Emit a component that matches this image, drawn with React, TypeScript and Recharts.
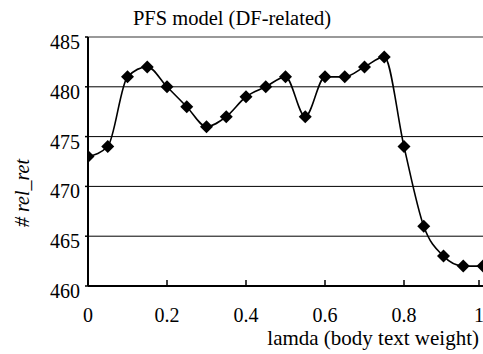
import { Line, LineChart, ReferenceLine, XAxis, YAxis } from "recharts";

// lamda steps and the # rel_ret read at each one
const lambdas = [0, 0.05, 0.1, 0.15, 0.2, 0.25, 0.3, 0.35, 0.4, 0.45, 0.5, 0.55, 0.6, 0.65, 0.7, 0.75, 0.8, 0.85, 0.9, 0.95, 1];
const relRet = [473, 474, 481, 482, 480, 478, 476, 477, 479, 480, 481, 477, 481, 481, 482, 483, 474, 466, 463, 462, 462];

const xTicks = [0, 0.2, 0.4, 0.6, 0.8, 1];
const yTicks = [460, 465, 470, 475, 480, 485];
const gridLines = [465, 470, 475, 480];

const data = lambdas.map((lamda, i) => ({ lamda, relRet: relRet[i] }));

const serif = '"Liberation Serif", "Times New Roman", serif';

function Diamond({ cx, cy }: { cx?: number; cy?: number }) {
  if (cx == null || cy == null) return null;
  const r = 6.5;
  return (
    <polygon
      points={`${cx},${cy - r} ${cx + r},${cy} ${cx},${cy + r} ${cx - r},${cy}`}
      fill="#000"
    />
  );
}

// ticks point up into the plot, label sits well below the axis
function XTick({ x, y, payload }: any) {
  return (
    <g>
      <line x1={x} x2={x} y1={y} y2={y - 6} stroke="#000" strokeWidth={1.5} />
      <text x={x} y={y + 36} textAnchor="middle" style={{ fontFamily: serif, fontSize: 20 }} fill="#000">
        {payload.value}
      </text>
    </g>
  );
}

// short stub left of the axis, number right-aligned a bit lower than the line
function YTick({ x, y, payload }: any) {
  return (
    <g>
      <line x1={x + 5} x2={x + 8} y1={y} y2={y} stroke="#000" strokeWidth={1.5} />
      <text x={x} y={y + 12} textAnchor="end" style={{ fontFamily: serif, fontSize: 20 }} fill="#000">
        {payload.value}
      </text>
    </g>
  );
}

export default function App() {
  return (
    <div style={{ position: "absolute", left: 0, top: 0, width: 483, height: 354, background: "#fff", color: "#000", fontFamily: serif }}>
      <div style={{ position: "absolute", left: 0, top: 7, width: 464, textAlign: "center", fontSize: 20.5, lineHeight: "22px", whiteSpace: "nowrap" }}>
        PFS model (DF-related)
      </div>
      <div
        style={{
          position: "absolute",
          left: 22,
          top: 193,
          transform: "translate(-50%, -50%) rotate(-90deg)",
          whiteSpace: "nowrap",
          fontSize: 20,
          fontStyle: "italic",
        }}
      >
        # rel_ret
      </div>
      <div style={{ position: "absolute", right: 4, top: 327, fontSize: 21, lineHeight: "22px", whiteSpace: "nowrap" }}>
        lamda (body text weight)
      </div>
      <LineChart width={483} height={354} data={data} margin={{ top: 37, right: 0, bottom: 28, left: 28 }}>
        {gridLines.map((v) => (
          <ReferenceLine key={v} y={v} stroke="#000" strokeWidth={1} />
        ))}
        <ReferenceLine y={485} stroke="#999" strokeWidth={2} />
        <XAxis
          dataKey="lamda"
          type="number"
          domain={[0, 1]}
          ticks={xTicks}
          height={40}
          tickSize={0}
          tickMargin={0}
          tickLine={false}
          axisLine={{ stroke: "#000", strokeWidth: 2 }}
          tick={<XTick />}
          allowDataOverflow
        />
        <YAxis
          type="number"
          domain={[460, 485]}
          ticks={yTicks}
          width={60}
          tickSize={0}
          tickMargin={8}
          tickLine={false}
          axisLine={{ stroke: "#000", strokeWidth: 2 }}
          tick={<YTick />}
          allowDataOverflow
        />
        <Line
          dataKey="relRet"
          type="monotone"
          stroke="#000"
          strokeWidth={1.6}
          dot={<Diamond />}
          activeDot={false}
          isAnimationActive={false}
        />
      </LineChart>
    </div>
  );
}
